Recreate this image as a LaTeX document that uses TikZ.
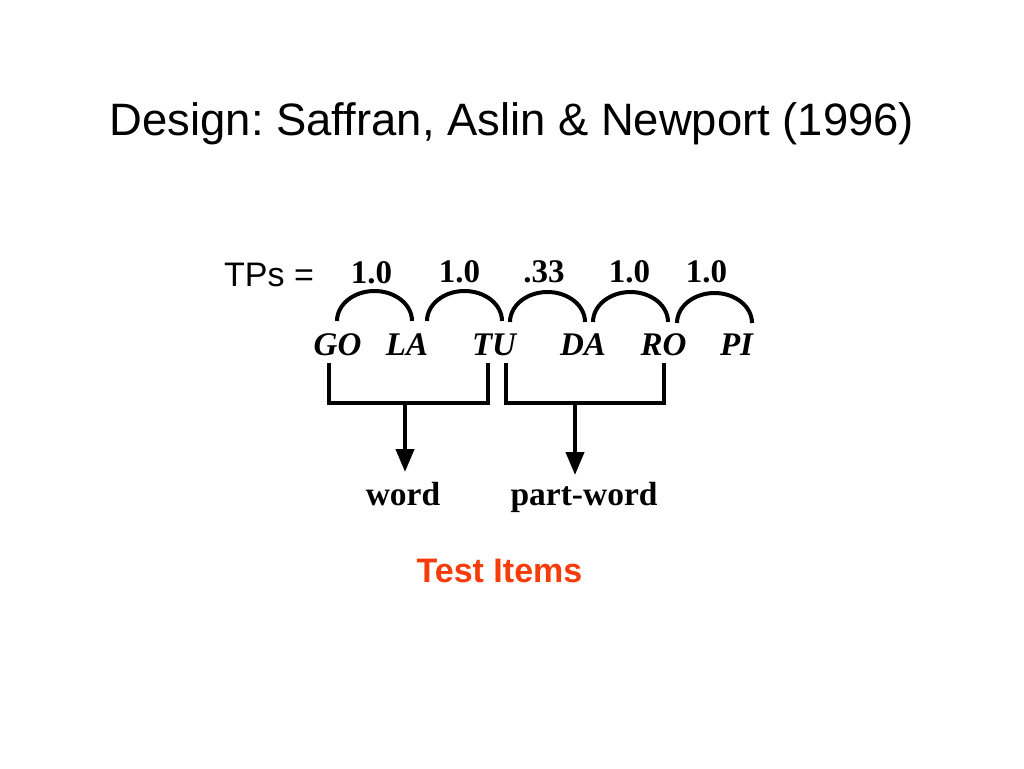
\documentclass[tikz,border=0pt]{standalone}
\usepackage{fontspec}
\setmainfont{Liberation Serif}
\newfontfamily\arialf{Liberation Sans}
\usetikzlibrary{arrows.meta}
\frenchspacing
\definecolor{testred}{RGB}{245,60,10}
\tikzset{
  txt/.style={inner sep=0pt, anchor=base},
  title/.style={txt, font=\arialf\fontsize{45.4}{54}\selectfont},
  tps/.style={txt, font=\arialf\fontsize{34}{40}\selectfont},
  num/.style={txt, font=\bfseries\fontsize{33}{40}\selectfont},
  syl/.style={txt, font=\bfseries\itshape\fontsize{33}{40}\selectfont},
  lbl/.style={txt, font=\bfseries\fontsize{33.5}{40}\selectfont},
  test/.style={txt, font=\arialf\bfseries\fontsize{34}{40}\selectfont, text=testred},
  tparc/.style={line width=4pt},
  brack/.style={line width=4pt, line join=miter},
  pointer/.style={line width=4pt, -{Triangle[length=23pt,width=18pt]}}
}
\begin{document}
\begin{tikzpicture}[x=1pt,y=-1pt]
\useasboundingbox[fill=white] (0,0) rectangle (1024,768);
% title
\node[title] (title) at (512,135) {Design: Saffran, Aslin \& Newport (1996)};
% TPs
\node[tps, anchor=base west] (tps) at (224,286) {TPs =};
\node[num] (n1) at (371.5,283) {1.0};
\node[num] (n2) at (459.5,282) {1.0};
\node[num] (n3) at (544,282) {.33};
\node[num] (n4) at (629.5,282) {1.0};
\node[num] (n5) at (706.5,282) {1.0};
% syllables
\node[syl] (go) at (337.5,355) {GO};
\node[syl] (la) at (407,355) {LA};
\node[syl] (tu) at (494,355) {TU};
\node[syl] (da) at (583,355) {DA};
\node[syl] (ro) at (663.5,355) {RO};
\node[syl] (pi) at (736.5,355) {PI};
% arc end points
\coordinate (a1) at (337,321);
\coordinate (a2) at (427,321);
\coordinate (a3) at (510,322);
\coordinate (a4) at (593,322);
\coordinate (a5) at (677,323);
\draw[tparc] (a1) arc[start angle=180, end angle=360, x radius=37.5, y radius=30];
\draw[tparc] (a2) arc[start angle=180, end angle=360, x radius=37.5, y radius=30];
\draw[tparc] (a3) arc[start angle=180, end angle=360, x radius=37.5, y radius=30];
\draw[tparc] (a4) arc[start angle=180, end angle=360, x radius=37.5, y radius=30];
\draw[tparc] (a5) arc[start angle=180, end angle=360, x radius=37.5, y radius=30];
% brackets
\coordinate (b1a) at (329,363);
\coordinate (b1b) at (488,363);
\coordinate (b2a) at (506,363);
\coordinate (b2b) at (664,363);
\draw[brack] (b1a) -- ++(0,40) -- ++(159,0) -- (b1b);
\draw[brack] (b2a) -- ++(0,40) -- ++(158,0) -- (b2b);
\coordinate (m1) at (405,403);
\coordinate (m2) at (575,403);
% labels
\node[lbl] (word) at (403,505) {word};
\node[lbl] (pword) at (584,505) {part-word};
\coordinate (t1) at (405,472);
\coordinate (t2) at (575,475);
\draw[pointer] (m1) -- (t1);
\draw[pointer] (m2) -- (t2);
% test items
\node[test] (test) at (499.5,582) {Test Items};
\end{tikzpicture}
\end{document}
